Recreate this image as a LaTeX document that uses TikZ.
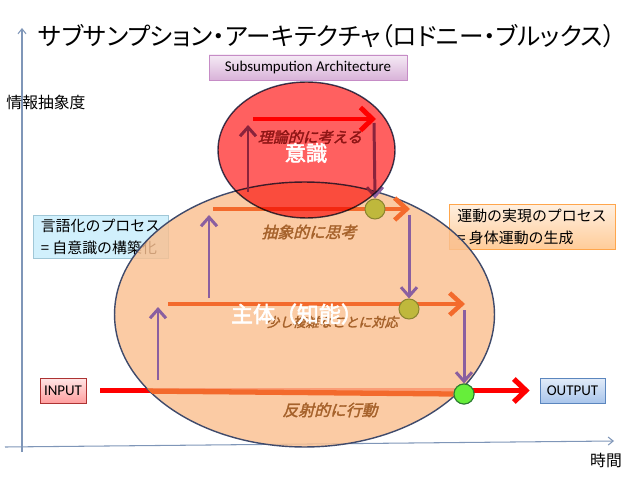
\documentclass[tikz,border=0pt]{standalone}
\usepackage{fontspec}
\setmainfont{Noto Sans CJK JP}
\newfontfamily\calfont{Carlito}
\newfontfamily\titlefont{Noto Sans CJK JP}[RawFeature=+palt]
\newfontfamily\jpbold{Noto Sans CJK JP}[FakeBold=2.5]
\newfontfamily\jpslant{Noto Sans CJK JP}[FakeBold=2,FakeSlant=0.25]
\usetikzlibrary{positioning,arrows.meta,shapes.geometric,shadows}

\definecolor{axisblue}{HTML}{7F96B8}
\definecolor{arrowred}{HTML}{FF0000}
\definecolor{arroworange}{HTML}{F36A2C}
\definecolor{arrowpurple}{HTML}{8A5FA0}
\definecolor{ellipseedge}{HTML}{3F4A6B}
\definecolor{shutaifill}{HTML}{FAC090}
\definecolor{ishikifill}{HTML}{FF6060}
\definecolor{oliveA}{HTML}{BFB83C}
\definecolor{oliveB}{HTML}{8C8630}
\definecolor{greenA}{HTML}{66EE3A}
\definecolor{greenB}{HTML}{2E7D32}
\definecolor{layerbrown}{HTML}{A5612A}
\definecolor{layerdarkred}{HTML}{8E1515}
\definecolor{outtop}{HTML}{E2ECF9}
\definecolor{outbottom}{HTML}{A9C5EB}
\definecolor{outedge}{HTML}{5B86BE}

\newcommand{\fsz}[2]{\fontsize{#1}{#2}\selectfont}

\begin{document}
\begin{tikzpicture}[x=0.02cm, y=-0.02cm,
  axisline/.style={draw=axisblue, line width=0.6pt, -{Straight Barb[length=0.1cm, width=0.16cm]}},
  labelbox/.style={draw, inner sep=2pt, drop shadow={shadow xshift=0.6pt, shadow yshift=-0.8pt, opacity=0.3}},
  redarrow/.style={draw=arrowred, line width=2.8pt, -{Straight Barb[length=0.24cm, width=0.46cm]}},
  orangearrow/.style={draw=arroworange, line width=2.6pt, -{Straight Barb[length=0.24cm, width=0.44cm]}},
  liftarrow/.style={draw=arrowpurple, line width=1.7pt, -{Straight Barb[length=0.18cm, width=0.32cm]}},
  junction/.style={circle, line width=0.6pt, minimum size=0.4cm, inner sep=0pt},
  layertext/.style={font=\jpslant\fsz{9}{11}, text=layerbrown}]
  \useasboundingbox (0,0) rectangle (638,479);

  % Axes
  \coordinate (yfoot) at (22,452);
  \coordinate (ytop) at (22,28);
  \coordinate (xfoot) at (5,447);
  \coordinate (xend) at (614,441);
  \draw[axisline] (yfoot) -- (ytop);
  \draw[axisline] (xfoot) -- (xend);
  \node[font=\fsz{9}{11}] (yname) at (46,102) {情報抽象度};
  \node[font=\fsz{9}{11}] (xname) at (606,460) {時間};

  % Title
  \node[font=\titlefont\fsz{14}{16}] (title) at (327,36) {サブサンプション・アーキテクチャ（ロドニー・ブルックス）};
  \node[labelbox, draw=violet!45, top color=violet!8, bottom color=violet!30,
        minimum width=3.96cm, minimum height=0.5cm, font=\calfont\fsz{8.5}{10}] (sub) at (308,67.5) {Subsumpution Architecture};

  % Process notes
  \node[labelbox, draw=cyan!45!gray!60, fill=cyan!18, minimum width=2.7cm, minimum height=0.86cm,
        align=left, font=\fsz{8.5}{12.5}] (verbal) at (100.5,236.5) {言語化のプロセス\\= 自意識の構築化};
  \node[labelbox, draw=orange!70, top color=orange!12, bottom color=orange!40, minimum width=3.32cm, minimum height=0.9cm,
        align=left, font=\fsz{8.5}{12.5}] (motor) at (532,226.5) {運動の実現のプロセス\\= 身体運動の生成};

  % Input / output
  \node[labelbox, draw=red!60!black!80, top color=red!10, bottom color=red!38,
        minimum width=0.92cm, minimum height=0.5cm, font=\calfont\fsz{8.5}{10}] (inbox) at (63,390.5) {INPUT};
  \node[labelbox, draw=outedge, top color=outtop, bottom color=outbottom,
        minimum width=1.3cm, minimum height=0.5cm, font=\calfont\fsz{8.5}{10}] (outbox) at (572.5,390.5) {OUTPUT};
  \draw[draw=arrowred, line width=3pt, shorten <=0.28cm, shorten >=0.2cm,
        -{Straight Barb[length=0.24cm, width=0.46cm]}] (inbox) -- (outbox);

  % Subject (intelligence)
  \node[ellipse, draw=ellipseedge, line width=0.8pt, fill=shutaifill, fill opacity=0.82,
        minimum width=7.6cm, minimum height=5.3cm, inner sep=0pt] (shutai) at (304.5,314.5) {};
  \node[junction, draw=greenB, fill=greenA] (c3) at (464,394) {};
  \begin{scope}
    \clip (shutai.center) ellipse [x radius=3.8cm, y radius=2.65cm];
    \draw[draw=arroworange, line width=3pt] (inbox.east) -- (c3.west);
  \end{scope}
  \node[junction, draw=greenB, fill=greenA] at (c3) {};

  % Layers
  \coordinate (l3s) at (168,304);  \coordinate (l3e) at (465,304);
  \coordinate (l2s) at (213,209);  \coordinate (l2e) at (410,209);
  \coordinate (l1s) at (253,119);  \coordinate (l1e) at (376,119);
  \draw[orangearrow] (l3s) -- (l3e);
  \draw[orangearrow] (l2s) -- (l2e);
  \draw[redarrow] (l1s) -- (l1e);
  \node[junction, draw=oliveB, fill=oliveA] (c2) at (409,309) {};
  \node[junction, draw=oliveB, fill=oliveA] (c1) at (375,209) {};

  % Up and down between layers
  \draw[liftarrow] (158,380) -- (158,307);
  \draw[liftarrow] (209,298) -- (209,215);
  \draw[liftarrow] (248,192) -- (248,125);
  \draw[liftarrow] (374,123) -- (c1.north);
  \draw[liftarrow] (409,215) -- (c2.north);
  \draw[liftarrow] (464,310) -- (c3.north);

  % Consciousness
  \begin{scope}[blend mode=multiply]
    \node[ellipse, draw=ellipseedge, line width=0.8pt, fill=ishikifill,
          minimum width=3.54cm, minimum height=2.72cm, inner sep=0pt] (ishiki) at (306.5,150) {};
  \end{scope}

  % Labels
  \node[layertext, text=layerdarkred, font=\jpslant\fsz{8.5}{10}] (t1) at (310,137) {理論的に考える};
  \node[text=white, font=\jpbold\fsz{12}{14}] (ishikiname) at (306,153) {意識};
  \node[layertext] (t2) at (309,232) {抽象的に思考};
  \node[layertext, font=\jpslant\fsz{7.5}{9}] (t3) at (332,322) {少し複雑なことに対応};
  \node[text=white, font=\jpbold\fsz{12.5}{14}] (shutainame) at (297,314) {主体（知能）};
  \node[layertext] (t4) at (330,410) {反射的に行動};
\end{tikzpicture}
\end{document}
